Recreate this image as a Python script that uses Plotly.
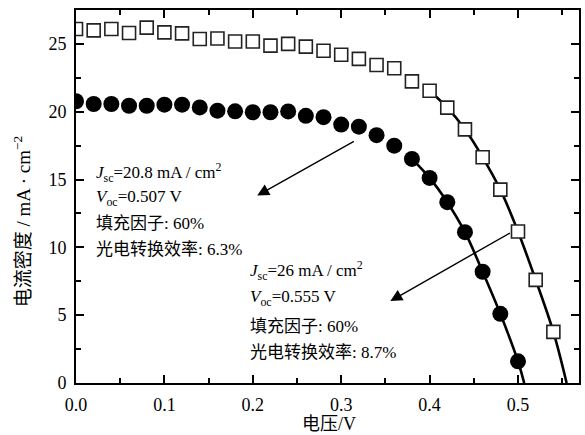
import plotly.graph_objects as go

# ---- data ----
voltage = [0.00, 0.02, 0.04, 0.06, 0.08, 0.10, 0.12, 0.14, 0.16, 0.18,
           0.20, 0.22, 0.24, 0.26, 0.28, 0.30, 0.32, 0.34, 0.36, 0.38,
           0.40, 0.42, 0.44, 0.46, 0.48, 0.50, 0.52, 0.54]
j_open = [26.1, 26.0, 26.1, 25.8, 26.2, 25.85, 25.78, 25.36, 25.4, 25.18,
          25.18, 24.87, 25.0, 24.8, 24.5, 24.2, 23.9, 23.45, 23.2, 22.24,
          21.55, 20.3, 18.7, 16.64, 14.26, 11.17, 7.6, 3.77]
voltage_c = voltage[:26]
j_filled = [20.77, 20.57, 20.57, 20.44, 20.44, 20.52, 20.52, 20.32, 20.08, 20.03,
            19.96, 19.96, 20.02, 19.7, 19.6, 19.05, 18.9, 18.27, 17.5, 16.52,
            15.12, 13.33, 11.12, 8.2, 5.1, 1.6]

fit_open_v = [0.40, 0.42, 0.44, 0.46, 0.48, 0.50, 0.52, 0.54, 0.555]
fit_open_j = [21.55, 20.3, 18.7, 16.64, 14.26, 11.17, 7.6, 3.77, 0.0]
fit_fill_v = [0.38, 0.40, 0.42, 0.44, 0.46, 0.48, 0.50, 0.507]
fit_fill_j = [16.52, 15.12, 13.33, 11.12, 8.2, 5.1, 1.6, 0.0]

x_ticks = [0.0, 0.1, 0.2, 0.3, 0.4, 0.5]
y_ticks = [0, 5, 10, 15, 20, 25]

label1 = ["<i>J</i><sub>sc</sub>=20.8 mA / cm<sup>2</sup>",
          "<i>V</i><sub>oc</sub>=0.507 V",
          "填充因子: 60%",
          "光电转换效率: 6.3%"]
label2 = ["<i>J</i><sub>sc</sub>=26 mA / cm<sup>2</sup>",
          "<i>V</i><sub>oc</sub>=0.555 V",
          "填充因子: 60%",
          "光电转换效率: 8.7%"]

# ---- layout geometry ----
W, H = 585, 435
ML, MR, MT, MB = 76, 4, 10, 52
PW, PH = W - ML - MR, H - MT - MB
FONT = "Liberation Serif, Noto Sans CJK SC, serif"


def px(xp):
    return (xp - ML) / PW


def py(yp):
    return (H - MB - yp) / PH


fig = go.Figure()
fig.add_trace(go.Scatter(x=fit_open_v, y=fit_open_j, mode="lines",
                         line=dict(color="black", width=2.6, shape="spline"),
                         showlegend=False, hoverinfo="skip"))
fig.add_trace(go.Scatter(x=fit_fill_v, y=fit_fill_j, mode="lines",
                         line=dict(color="black", width=2.6, shape="spline"),
                         showlegend=False, hoverinfo="skip"))
fig.add_trace(go.Scatter(x=voltage, y=j_open, mode="markers",
                         marker=dict(symbol="square", size=13, color="white",
                                     line=dict(color="#222", width=1.6)),
                         showlegend=False))
fig.add_trace(go.Scatter(x=voltage_c, y=j_filled, mode="markers",
                         marker=dict(symbol="circle", size=16, color="black",
                                     line=dict(width=0)),
                         showlegend=False))

ann = []
# arrows
ann.append(dict(x=0.205, y=13.82, ax=0.316, ay=17.87, xref="x", yref="y",
                axref="x", ayref="y", showarrow=True, arrowhead=2,
                arrowsize=1.7, arrowwidth=1.4, arrowcolor="black", text=""))
ann.append(dict(x=0.3556, y=6.04, ax=0.4925, ay=11.12, xref="x", yref="y",
                axref="x", ayref="y", showarrow=True, arrowhead=2,
                arrowsize=1.7, arrowwidth=1.4, arrowcolor="black", text=""))

ys1 = [173, 198, 224, 249]
ys2 = [270, 298, 326, 352]
for t, yy in zip(label1, ys1):
    ann.append(dict(x=px(94), y=py(yy), xref="paper", yref="paper", text=t,
                    showarrow=False, xanchor="left", yanchor="middle",
                    font=dict(family=FONT, size=17, color="black")))
for t, yy in zip(label2, ys2):
    ann.append(dict(x=px(249), y=py(yy), xref="paper", yref="paper", text=t,
                    showarrow=False, xanchor="left", yanchor="middle",
                    font=dict(family=FONT, size=17, color="black")))

# axis titles
ann.append(dict(x=px(22), y=py(222), xref="paper", yref="paper",
                text="电流密度 / mA · cm<sup>−2</sup>", textangle=-90,
                showarrow=False, xanchor="center", yanchor="middle",
                font=dict(family=FONT, size=19, color="black")))
ann.append(dict(x=px(330), y=py(424), xref="paper", yref="paper",
                text="电压/V", showarrow=False, xanchor="center",
                yanchor="middle", font=dict(family=FONT, size=18, color="black")))

axis_common = dict(showline=True, linecolor="black", linewidth=2,
                   mirror="ticks", ticks="inside", ticklen=8, tickwidth=1.5,
                   tickcolor="black", showgrid=False, zeroline=False,
                   tickfont=dict(family=FONT, size=18, color="black"))

fig.update_layout(
    width=W, height=H,
    margin=dict(l=ML, r=MR, t=MT, b=MB),
    paper_bgcolor="white", plot_bgcolor="white",
    annotations=ann,
    xaxis=dict(range=[0, 0.569], tickvals=x_ticks,
               ticktext=[f"{v:.1f}" for v in x_ticks],
               minor=dict(dtick=0.05, ticklen=5, ticks="inside",
                          tickcolor="black", tickwidth=1.5),
               ticklabelstandoff=4, **axis_common),
    yaxis=dict(range=[0, 27.5], tickvals=y_ticks,
               minor=dict(dtick=2.5, ticklen=5, ticks="inside",
                          tickcolor="black", tickwidth=1.5),
               ticklabelstandoff=4, **axis_common),
)

fig.write_html("out.html")
